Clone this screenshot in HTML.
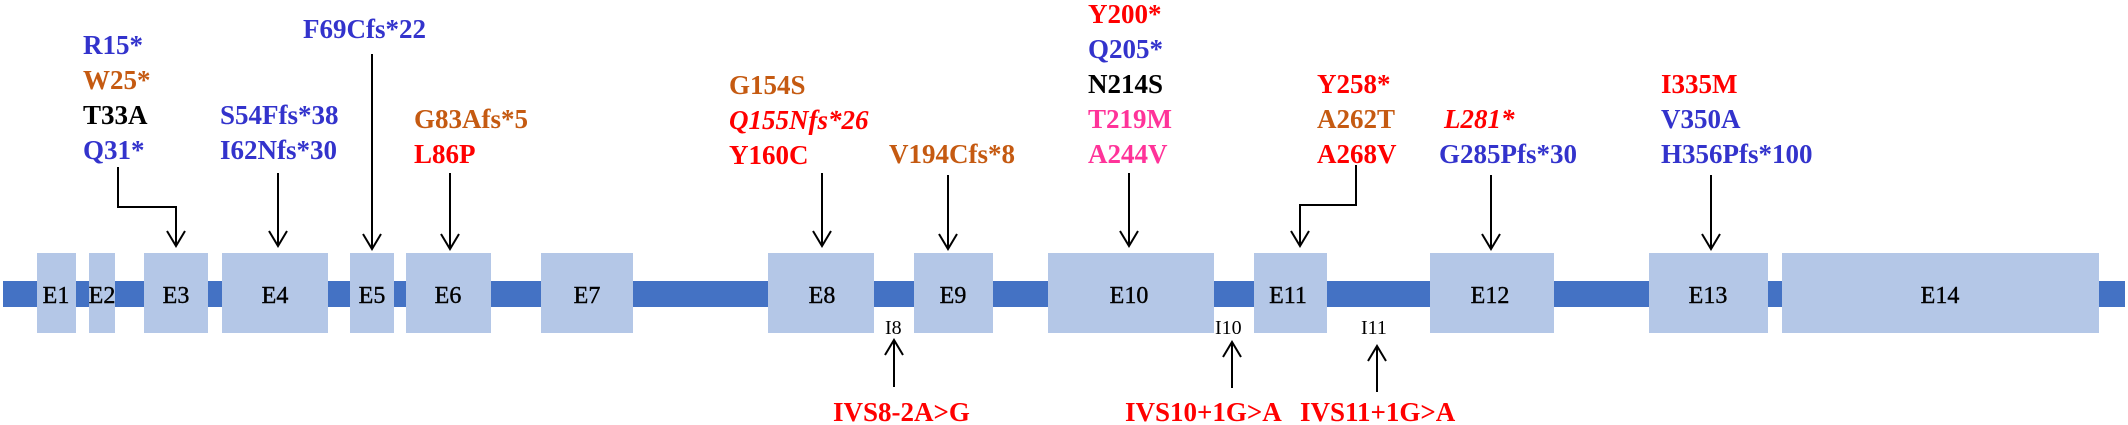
<!DOCTYPE html>
<html><head><meta charset="utf-8"><style>
html,body{margin:0;padding:0;background:#fff;}
svg{display:block;}
.m{font-family:"Liberation Serif",serif;font-weight:bold;font-size:27px;}
.e{font-family:"Liberation Serif",serif;font-size:24px;fill:#000;text-anchor:middle;stroke:#000;stroke-width:0.4;}
.i{font-family:"Liberation Serif",serif;font-size:20px;fill:#000;}
.b{fill:#3333cc}.o{fill:#c55a11}.r{fill:#ff0000}.k{fill:#000}.p{fill:#ff3399}
.it{font-style:italic}
</style></head><body>
<svg width="2128" height="425" viewBox="0 0 2128 425" xmlns="http://www.w3.org/2000/svg">
<rect x="3" y="281" width="2122" height="26" fill="#4472c4"/>
<g fill="#b4c7e7">
<rect x="37" y="253" width="39" height="80"/>
<rect x="89" y="253" width="26" height="80"/>
<rect x="144" y="253" width="64" height="80"/>
<rect x="222" y="253" width="106" height="80"/>
<rect x="350" y="253" width="44" height="80"/>
<rect x="406" y="253" width="85" height="80"/>
<rect x="541" y="253" width="92" height="80"/>
<rect x="768" y="253" width="106" height="80"/>
<rect x="914" y="253" width="79" height="80"/>
<rect x="1048" y="253" width="166" height="80"/>
<rect x="1254" y="253" width="73" height="80"/>
<rect x="1430" y="253" width="124" height="80"/>
<rect x="1649" y="253" width="119" height="80"/>
<rect x="1782" y="253" width="317" height="80"/>
</g>
<g class="e">
<text x="56" y="303">E1</text><text x="102" y="303">E2</text><text x="176" y="303">E3</text>
<text x="275" y="303">E4</text><text x="372" y="303">E5</text><text x="448" y="303">E6</text>
<text x="587" y="303">E7</text><text x="822" y="303">E8</text><text x="953" y="303">E9</text>
<text x="1129" y="303">E10</text><text x="1288" y="303">E11</text><text x="1490" y="303">E12</text>
<text x="1708" y="303">E13</text><text x="1940" y="303">E14</text>
</g>
<g class="i"><text x="885" y="334">I8</text><text x="1215" y="334">I10</text><text x="1361" y="334">I11</text></g>
<g stroke="#000" stroke-width="2" fill="none">
<polyline points="118,167 118,207 176,207 176,246"/><polyline points="167,231 176,246 185,231"/>
<line x1="278" y1="173" x2="278" y2="246"/><polyline points="269,231 278,246 287,231"/>
<line x1="372" y1="54" x2="372" y2="249"/><polyline points="363,234 372,249 381,234"/>
<line x1="450" y1="173" x2="450" y2="249"/><polyline points="441,234 450,249 459,234"/>
<line x1="822" y1="173" x2="822" y2="246"/><polyline points="813,231 822,246 831,231"/>
<line x1="948" y1="175" x2="948" y2="249"/><polyline points="939,234 948,249 957,234"/>
<line x1="1129" y1="173" x2="1129" y2="246"/><polyline points="1120,231 1129,246 1138,231"/>
<polyline points="1356,165 1356,205 1300,205 1300,246"/><polyline points="1291,231 1300,246 1309,231"/>
<line x1="1491" y1="175" x2="1491" y2="249"/><polyline points="1482,234 1491,249 1500,234"/>
<line x1="1711" y1="175" x2="1711" y2="249"/><polyline points="1702,234 1711,249 1720,234"/>
<line x1="894" y1="387" x2="894" y2="340"/><polyline points="885,355 894,340 903,355"/>
<line x1="1232" y1="388" x2="1232" y2="342"/><polyline points="1223,357 1232,342 1241,357"/>
<line x1="1377" y1="392" x2="1377" y2="346"/><polyline points="1368,361 1377,346 1386,361"/>
</g>
<g class="m">
<text x="83" y="54" class="b">R15*</text>
<text x="83" y="89" class="o">W25*</text>
<text x="83" y="124" class="k">T33A</text>
<text x="83" y="159" class="b">Q31*</text>
<text x="303" y="38" class="b">F69Cfs*22</text>
<text x="220" y="124" class="b">S54Ffs*38</text>
<text x="220" y="159" class="b">I62Nfs*30</text>
<text x="414" y="128" class="o">G83Afs*5</text>
<text x="414" y="163" class="r">L86P</text>
<text x="729" y="94" class="o">G154S</text>
<text x="729" y="129" class="r it">Q155Nfs*26</text>
<text x="729" y="164" class="r">Y160C</text>
<text x="889" y="163" class="o">V194Cfs*8</text>
<text x="1088" y="23" class="r">Y200*</text>
<text x="1088" y="58" class="b">Q205*</text>
<text x="1088" y="93" class="k">N214S</text>
<text x="1088" y="128" class="p">T219M</text>
<text x="1088" y="163" class="p">A244V</text>
<text x="1317" y="93" class="r">Y258*</text>
<text x="1317" y="128" class="o">A262T</text>
<text x="1317" y="163" class="r">A268V</text>
<text x="1444" y="128" class="r it">L281*</text>
<text x="1439" y="163" class="b">G285Pfs*30</text>
<text x="1661" y="93" class="r">I335M</text>
<text x="1661" y="128" class="b">V350A</text>
<text x="1661" y="163" class="b">H356Pfs*100</text>
<text x="833" y="421" class="r">IVS8-2A&gt;G</text>
<text x="1125" y="421" class="r">IVS10+1G&gt;A</text>
<text x="1300" y="421" class="r">IVS11+1G&gt;A</text>
</g>
</svg>
</body></html>
